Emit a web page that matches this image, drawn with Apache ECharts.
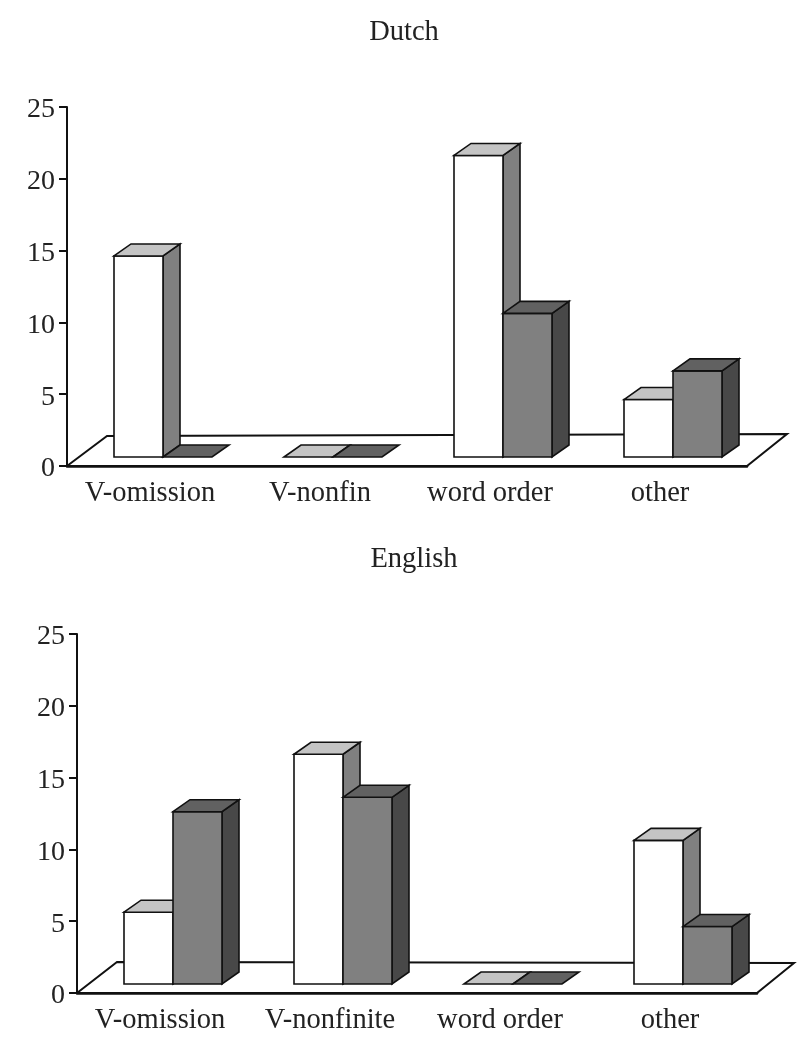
<!DOCTYPE html>
<html>
<head>
<meta charset="utf-8">
<style>
  html, body { margin: 0; padding: 0; background: #fff; }
  #chart { width: 812px; height: 1050px; }
</style>
</head>
<body>
<div id="chart"></div>
<script src="https://cdn.jsdelivr.net/npm/echarts@6/dist/echarts.min.js"></script>
<script>
const dutchCategories = ['V-omission', 'V-nonfin', 'word order', 'other']
const dutchLight = [14, 0, 21, 4]
const dutchDark = [0, 0, 10, 6]

const englishCategories = ['V-omission', 'V-nonfinite', 'word order', 'other']
const englishLight = [5, 16, 0, 10]
const englishDark = [12, 13, 0, 4]

const valueTicks = { min: 0, max: 25, interval: 5 }

const FONT = '"Liberation Serif", "Times New Roman", serif'
const BAR_W = 49
const BAR_DX = 17 // depth of a bar
const BAR_DY = 12
const BAR_SHIFT_X = 11 // bars stand a bit back on the floor
const BAR_SHIFT_Y = 9

const lightColors = { front: '#ffffff', top: '#c4c4c4', side: '#808080' }
const darkColors = { front: '#808080', top: '#616161', side: '#484848' }

const lineStyle = (fill) => ({ fill, stroke: '#111', lineWidth: 1.6, lineJoin: 'miter' })

const poly = (points, fill) => ({
  type: 'polygon',
  shape: { points },
  style: lineStyle(fill)
})

// side = 0 the bar left of the band's middle, 1 the one right of it
const bar3d = (side, colors) => (params, api) => {
  const top = api.coord([api.value(0), api.value(1)])
  const base = api.coord([api.value(0), 0])
  const x0 = base[0] + BAR_SHIFT_X - BAR_W + side * BAR_W
  const x1 = x0 + BAR_W
  const y0 = base[1] - BAR_SHIFT_Y
  const y1 = top[1] - BAR_SHIFT_Y
  const children = []
  if (api.value(1) > 0) {
    children.push(poly([[x1, y1], [x1 + BAR_DX, y1 - BAR_DY], [x1 + BAR_DX, y0 - BAR_DY], [x1, y0]], colors.side))
    children.push(poly([[x0, y1], [x1, y1], [x1, y0], [x0, y0]], colors.front))
  }
  children.push(poly([[x0, y1], [x0 + BAR_DX, y1 - BAR_DY], [x1 + BAR_DX, y1 - BAR_DY], [x1, y1]], colors.top))
  return { type: 'group', children }
}

const floor = (backLeft, backRight) => (params) => {
  const { x, y, width, height } = params.coordSys
  const by = y + height
  return {
    type: 'polygon',
    shape: { points: [[x, by], [x + backLeft[0], by - backLeft[1]], [x + backRight[0], by - backRight[1]], [x + width, by]] },
    style: { fill: '#fff', stroke: '#111', lineWidth: 2 }
  }
}

const makeSeries = (index, light, dark, floorLeft, floorRight) => [
  {
    type: 'custom',
    xAxisIndex: index,
    yAxisIndex: index,
    z: 1,
    silent: true,
    data: [0],
    renderItem: floor(floorLeft, floorRight)
  },
  {
    name: 'light',
    type: 'custom',
    xAxisIndex: index,
    yAxisIndex: index,
    z: 2,
    silent: true,
    encode: { x: 0, y: 1 },
    data: light.map((v, i) => [i, v]),
    renderItem: bar3d(0, lightColors)
  },
  {
    name: 'dark',
    type: 'custom',
    xAxisIndex: index,
    yAxisIndex: index,
    z: 3,
    silent: true,
    encode: { x: 0, y: 1 },
    data: dark.map((v, i) => [i, v]),
    renderItem: bar3d(1, darkColors)
  }
]

const xAxis = (gridIndex, data) => ({
  type: 'category',
  gridIndex,
  data,
  boundaryGap: true,
  axisLine: { show: true, lineStyle: { color: '#111', width: 2.5 } },
  axisTick: { show: false },
  // padding on the right nudges the labels a little left of the band centre
  axisLabel: { color: '#222', fontFamily: FONT, fontSize: 28.5, margin: 13, padding: [0, 4, 0, 0], interval: 0 }
})

const yAxis = (gridIndex) => ({
  type: 'value',
  gridIndex,
  min: valueTicks.min,
  max: valueTicks.max,
  interval: valueTicks.interval,
  splitLine: { show: false },
  axisLine: { show: true, lineStyle: { color: '#111', width: 2 } },
  axisTick: { show: true, length: 8, lineStyle: { color: '#111', width: 2 } },
  axisLabel: {
    margin: 12,
    // tall empty token pushes the digits a few px down to sit on the tick
    formatter: '{v|{value}}{s|}',
    rich: {
      v: { color: '#222', fontFamily: FONT, fontSize: 28, height: 28, verticalAlign: 'bottom' },
      s: { width: 0, height: 34, fontSize: 28 }
    }
  }
})

const titleStyle = { color: '#222', fontFamily: FONT, fontSize: 28.5, fontWeight: 'normal' }

const chart = echarts.init(document.getElementById('chart'), null, { renderer: 'canvas' })

chart.setOption({
  animation: false,
  backgroundColor: '#fff',
  title: [
    { text: 'Dutch', left: 399, top: 28, textAlign: 'center', textVerticalAlign: 'middle', textStyle: titleStyle },
    { text: 'English', left: 409, top: 555, textAlign: 'center', textVerticalAlign: 'middle', textStyle: titleStyle }
  ],
  grid: [
    { left: 67, top: 107, width: 680, height: 359 },
    { left: 77, top: 634, width: 680, height: 359 }
  ],
  xAxis: [xAxis(0, dutchCategories), xAxis(1, englishCategories)],
  yAxis: [yAxis(0), yAxis(1)],
  series: [
    ...makeSeries(0, dutchLight, dutchDark, [40, 30], [720, 32]),
    ...makeSeries(1, englishLight, englishDark, [40, 31], [717, 30])
  ]
})
</script>
</body>
</html>
